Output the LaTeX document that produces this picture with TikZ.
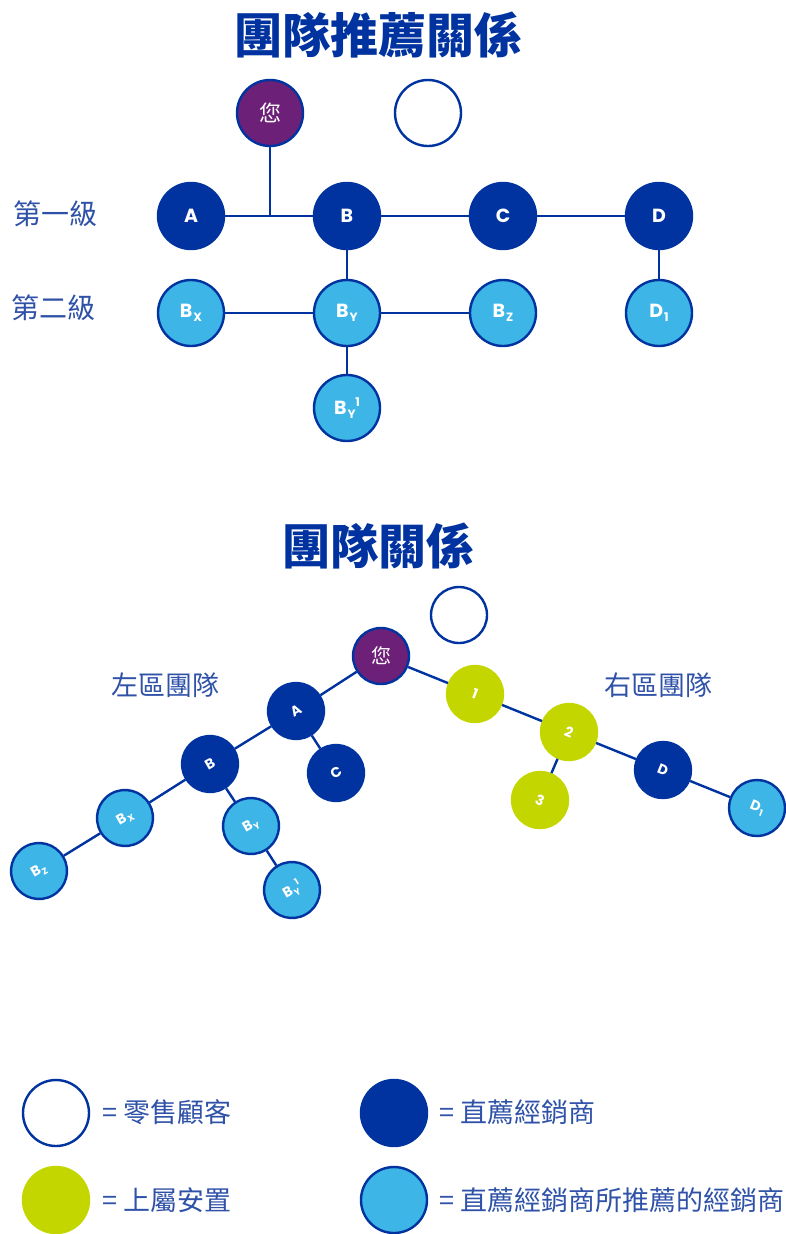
\documentclass[tikz,border=0pt]{standalone}
\usepackage{fontspec}
\newfontfamily\cjk{Noto Sans CJK TC}
\newfontfamily\lab{Poppins}
\definecolor{dkblue}{HTML}{0033A0}
\definecolor{ltblue}{HTML}{3DB5E6}
\definecolor{lime}{HTML}{C4D600}
\definecolor{purp}{HTML}{6D2077}
\definecolor{txtblue}{HTML}{2F52A8}
\newcommand\nsub[3]{#1\kern0.05em\raisebox{-0.4ex}{\fontsize{#3}{#3}\selectfont #2}}
\newcommand\nsubsup[3]{B\kern0.05em\raisebox{-0.4ex}{\fontsize{#3}{#3}\selectfont #1}\kern-0.02em\raisebox{0.8ex}{\fontsize{#3}{#3}\selectfont #2}}
\begin{document}
\begin{tikzpicture}[x=1pt,y=-1pt,
  base/.style={circle,inner sep=0pt,line width=2.4pt,draw=dkblue,text=white,font=\lab\bfseries\fontsize{19}{19}\selectfont},
  big/.style={base,minimum size=66pt},
  small/.style={base,minimum size=56pt,font=\lab\bfseries\fontsize{14}{14}\selectfont},
  you/.style={fill=purp,font=\cjk\fontsize{22}{22}\selectfont},
  cust/.style={fill=white},
  dist/.style={fill=dkblue},
  subd/.style={fill=ltblue},
  upl/.style={fill=lime,draw=lime},
  edge/.style={draw=dkblue,line width=2.4pt},
  title/.style={text=dkblue,font=\cjk\bfseries\fontsize{48}{48}\selectfont},
  lbl/.style={text=txtblue,font=\cjk\fontsize{28}{28}\selectfont},
  legtxt/.style={text=txtblue,anchor=west,font=\cjk\fontsize{27}{27}\selectfont}
]
\useasboundingbox (0,0) rectangle (785,1234);

% ---------- Top diagram ----------
\node[title] (t1) at (378,35) {團隊推薦關係};
\node[big,you] (tyou) at (270,113) {您};
\node[big,cust] (tcust) at (428,113) {};
\node[big,dist] (tA) at (191,216) {A};
\node[big,dist] (tB) at (347,216) {B};
\node[big,dist] (tC) at (503,216) {C};
\node[big,dist] (tD) at (659,216) {D};
\node[big,subd] (tBx) at (191,313) {\nsub{B}{X}{12}};
\node[big,subd] (tBy) at (347,313) {\nsub{B}{Y}{12}};
\node[big,subd] (tBz) at (503,313) {\nsub{B}{Z}{12}};
\node[big,subd] (tD1) at (659,313) {\nsub{D}{1}{12}};
\node[big,subd] (tBy1) at (347,408) {\nsubsup{Y}{1}{12}};
\coordinate (tj) at (270,216);
\node[lbl] (lv1) at (55,214) {第一級};
\node[lbl] (lv2) at (53,308) {第二級};
\draw[edge] (tyou) -- (tj);
\draw[edge] (tA) -- (tB);
\draw[edge] (tB) -- (tC);
\draw[edge] (tC) -- (tD);
\draw[edge] (tB) -- (tBy);
\draw[edge] (tD) -- (tD1);
\draw[edge] (tBx) -- (tBy);
\draw[edge] (tBy) -- (tBz);
\draw[edge] (tBy) -- (tBy1);

% ---------- Bottom diagram ----------
\node[title] (t2) at (378,546) {團隊關係};
\node[small,cust] (bcust) at (459,615) {};
\node[small,you,font=\cjk\fontsize{20}{20}\selectfont] (byou) at (381,656) {您};
\node[small,dist,rotate=30] (bA) at (296,711) {A};
\node[small,dist,rotate=30] (bC) at (336,773) {C};
\node[small,dist,rotate=30] (bB) at (210,764) {B};
\node[small,subd,rotate=30] (bBx) at (125,818) {\nsub{B}{X}{9}};
\node[small,subd,rotate=30] (bBz) at (39,871) {\nsub{B}{Z}{9}};
\node[small,subd,rotate=30] (bBy) at (251,826) {\nsub{B}{Y}{9}};
\node[small,subd,rotate=30] (bBy1) at (292,890) {\nsubsup{Y}{1}{9}};
\node[small,upl,rotate=-22] (b1) at (475,694) {1};
\node[small,upl,rotate=-22] (b2) at (569,732) {2};
\node[small,upl,rotate=-22] (b3) at (540,800) {3};
\node[small,dist,rotate=-22] (bD) at (663,770) {D};
\node[small,subd,rotate=-22] (bD1) at (757,808) {\nsub{D}{1}{9}};
\node[lbl,font=\cjk\fontsize{27}{27}\selectfont] (lleft) at (165,685) {左區團隊};
\node[lbl,font=\cjk\fontsize{27}{27}\selectfont] (lright) at (658,685) {右區團隊};
\draw[edge] (byou) -- (bA);
\draw[edge] (bA) -- (bB);
\draw[edge] (bA) -- (bC);
\draw[edge] (bB) -- (bBx);
\draw[edge] (bBx) -- (bBz);
\draw[edge] (bB) -- (bBy);
\draw[edge] (bBy) -- (bBy1);
\draw[edge] (byou) -- (b1);
\draw[edge] (b1) -- (b2);
\draw[edge] (b2) -- (b3);
\draw[edge] (b2) -- (bD);
\draw[edge] (bD) -- (bD1);

% ---------- Legend ----------
\node[big,cust] (gcust) at (56,1113) {};
\node[big,dist] (gdist) at (394,1113) {};
\node[big,upl] (gupl) at (56,1200) {};
\node[big,subd] (gsubd) at (394,1200) {};
\node[legtxt] (tcustx) at (99,1112) {= 零售顧客};
\node[legtxt] (tdistx) at (436,1112) {= 直薦經銷商};
\node[legtxt] (tuplx) at (99,1200) {= 上屬安置};
\node[legtxt] (tsubdx) at (436,1200) {= 直薦經銷商所推薦的經銷商};
\end{tikzpicture}
\end{document}
